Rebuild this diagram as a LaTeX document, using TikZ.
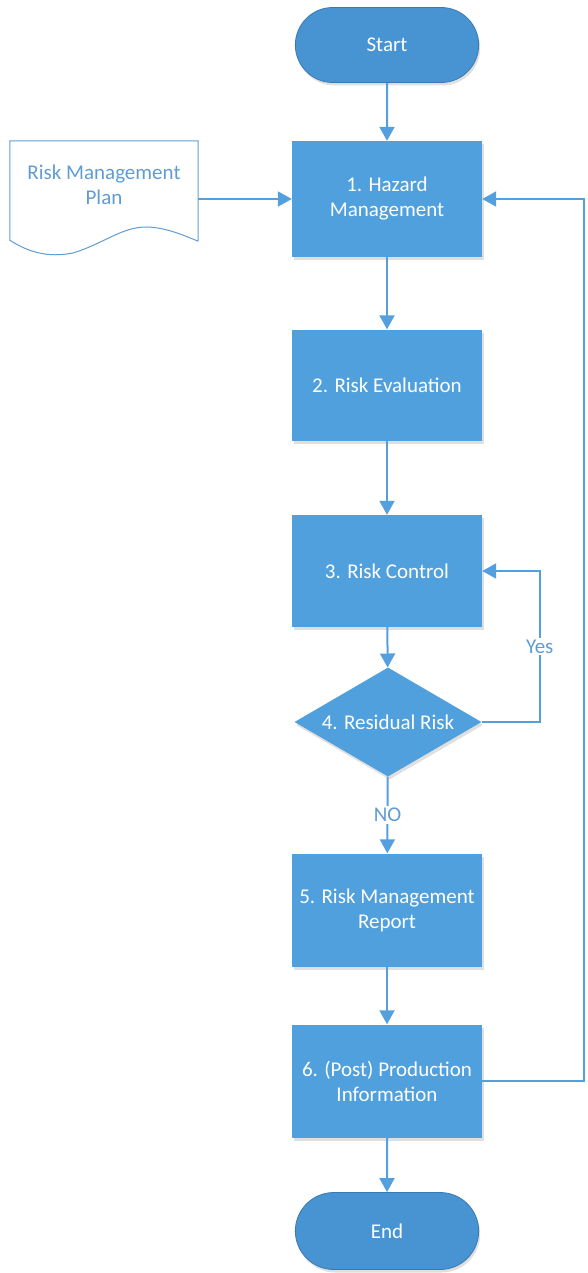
\documentclass[tikz,border=0pt]{standalone}
\usepackage{fontspec}
\setsansfont{Carlito}
\usetikzlibrary{positioning, arrows.meta, shapes, shadows, calc}

\definecolor{flowblue}{RGB}{80,160,221}
\definecolor{termblue}{RGB}{72,148,210}
\definecolor{termedge}{RGB}{58,122,180}
\definecolor{lineblue}{RGB}{84,160,222}
\definecolor{planblue}{RGB}{96,156,212}

\begin{document}
\begin{tikzpicture}[
    x=1pt, y=1pt,
    font=\sffamily\fontsize{21}{25}\selectfont,
    shade/.style={drop shadow={shadow xshift=1.5pt, shadow yshift=-3pt, opacity=0.25, fill=black!50}},
    process/.style={rectangle, fill=flowblue, text=white, align=center, minimum width=190pt, minimum height=113pt, inner sep=2pt, shade},
    term/.style={rounded rectangle, fill=termblue, draw=termedge, line width=0.8pt, text=white, minimum width=190pt, minimum height=75pt, shade},
    decision/.style={diamond, fill=flowblue, minimum width=187pt, minimum height=109pt, inner sep=0pt, shade},
    flow/.style={draw=lineblue, line width=2pt, -{Triangle[length=14pt, width=15pt]}},
    tag/.style={text=planblue, fill=white, inner sep=2pt}
]
\useasboundingbox (0,0) rectangle (587,-1273);

% Terminals and steps
\node[term] (start) at (387,-45) {Start};
\node[process, minimum height=116pt] (hazard) at (387,-199) {1. Hazard\\Management};
\node[process, minimum height=111pt] (eval) at (387,-385) {2. Risk Evaluation};
\node[process, minimum height=112pt] (control) at (387,-571) {3. Risk Control};
\node[decision] (resid) at (388,-722) {};
\node[text=white] at (resid) {4. Residual Risk};
\node[process] (report) at (387,-910) {5. Risk Management\\Report};
\node[process] (prod) at (387,-1081) {6. (Post) Production\\Information};
\node[term, minimum height=77pt] (end) at (387,-1231) {End};

% Input document
\node[text=planblue, align=center, minimum width=188pt, minimum height=88pt] (plan) at (104,-185) {Risk Management\\Plan};
\draw[draw=planblue, line width=1pt]
    ($(plan.south east)+(0,-12)$) -- (plan.north east) -- (plan.north west) -- ($(plan.south west)+(0,-11)$)
    .. controls (28,-252) and (48,-258) .. (73,-253)
    .. controls (103,-244) and (123,-226) .. (148,-227)
    .. controls (168,-228) and (185,-236) .. ($(plan.south east)+(0,-12)$);

% Main flow
\draw[flow] (start) -- (hazard);
\draw[flow] (plan.east |- hazard.west) -- (hazard.west);
\draw[flow] (hazard) -- (eval);
\draw[flow] (eval) -- (control);
\draw[flow] (control) -- (resid);
\draw[flow] (resid) -- node[tag] {NO} (report);
\draw[flow] (report) -- (prod);
\draw[flow] (prod) -- (end);

% Loops back
\draw[flow] (resid.east) -- ++(58,0) |- node[tag, pos=0.25] {Yes} (control.east);
\coordinate (fbk) at (584,-1081);
\draw[flow] (prod.east) -- (fbk) |- (hazard.east);

\end{tikzpicture}
\end{document}
